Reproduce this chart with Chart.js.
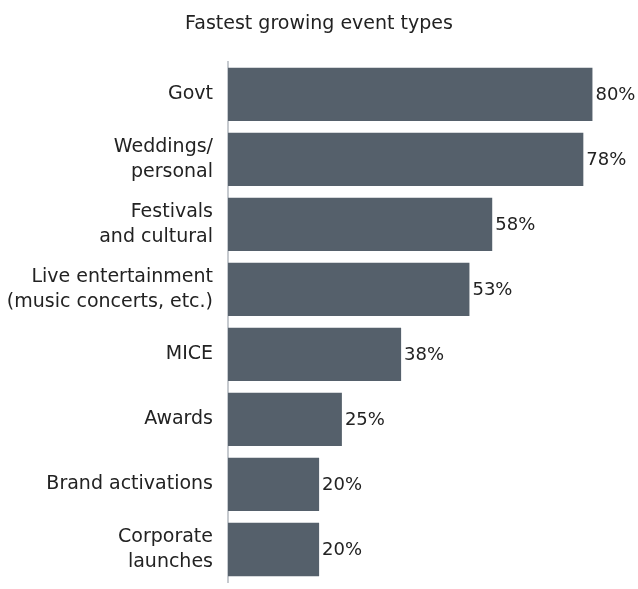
<!DOCTYPE html>
<html>
<head>
<meta charset="utf-8">
<script src="https://cdn.jsdelivr.net/npm/chart.js@4"></script>
<style>
  html, body { margin: 0; padding: 0; background: #ffffff; }
  #wrap { width: 638px; height: 589px; }
</style>
</head>
<body>
<div id="wrap"><canvas id="eventChart"></canvas></div>
<script>
var eventTypes = [
    "Govt",
    ["Weddings/", "personal"],
    ["Festivals", "and cultural"],
    ["Live entertainment", "(music concerts, etc.)"],
    "MICE",
    "Awards",
    "Brand activations",
    ["Corporate", "launches"]
];
var growthPct = [80, 78, 58, 53, 38, 25, 20, 20];
var axisMax = 90;

var FONT = "'DejaVu Sans', sans-serif";
var TEXT = "#222222";

// valeurs en bout de barre
var barValueLabels = {
    id: "barValueLabels",
    afterDatasetsDraw: function (chart) {
        var ctx = chart.ctx;
        var meta = chart.getDatasetMeta(0);
        ctx.save();
        ctx.font = "18px " + FONT;
        ctx.fillStyle = TEXT;
        ctx.textAlign = "left";
        ctx.textBaseline = "middle";
        meta.data.forEach(function (bar, i) {
            ctx.fillText(growthPct[i] + "%", bar.x + 3, bar.y + 1);
        });
        ctx.restore();
    }
};

var chart = new Chart(document.getElementById("eventChart").getContext("2d"), {
    type: "bar",
    data: {
        labels: eventTypes,
        datasets: [{
            data: growthPct,
            backgroundColor: "#55606b",
            borderWidth: 0,
            categoryPercentage: 1,
            barPercentage: 0.82
        }]
    },
    plugins: [barValueLabels],
    options: {
        indexAxis: "y",
        responsive: true,
        maintainAspectRatio: false,
        animation: false,
        layout: { padding: { left: 0, right: 0, top: 0, bottom: 7 } },
        plugins: {
            legend: { display: false },
            tooltip: { enabled: false },
            title: {
                display: true,
                text: "Fastest growing event types",
                color: TEXT,
                font: { family: FONT, size: 19, weight: "normal" },
                padding: { top: 13, bottom: 26 }
            }
        },
        scales: {
            x: {
                display: false,
                min: 0,
                max: axisMax
            },
            y: {
                afterFit: function (axis) {
                    axis.width = 228;
                    axis.paddingTop = 0;
                    axis.paddingBottom = 0;
                },
                grid: { display: false, drawTicks: false },
                border: { display: true, color: "#c6cacf", width: 2 },
                ticks: {
                    color: TEXT,
                    padding: 15,
                    font: { family: FONT, size: 19, lineHeight: 1.32 }
                }
            }
        }
    }
});
</script>
</body>
</html>
